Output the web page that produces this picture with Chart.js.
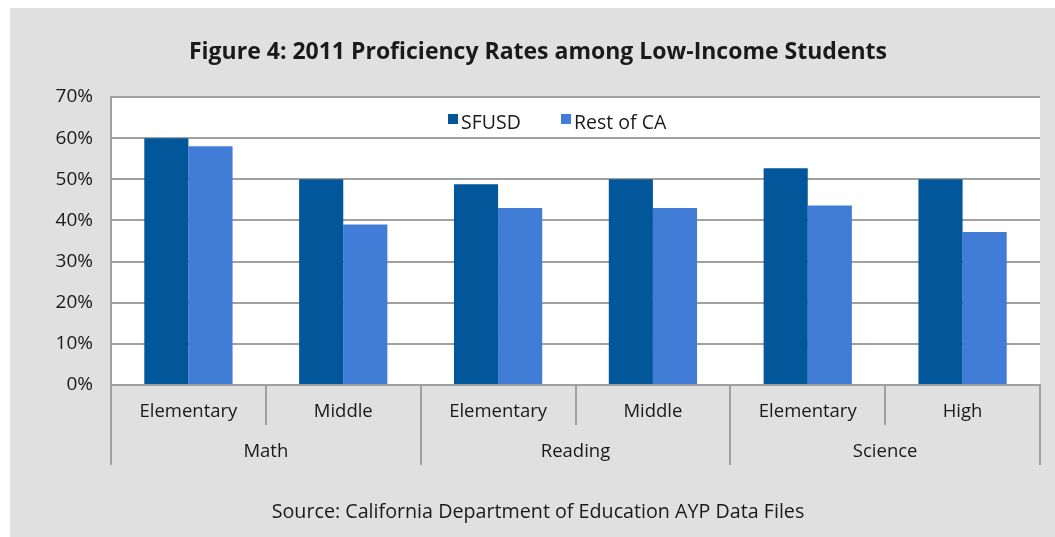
<!DOCTYPE html>
<html>
<head>
<meta charset="utf-8">
<script src="https://cdn.jsdelivr.net/npm/chart.js@4.4.1/dist/chart.umd.min.js"></script>
<style>
  html, body { margin: 0; padding: 0; background: #ffffff; }
  #wrap { position: absolute; left: 10px; top: 8px; width: 1045px; height: 529px; background: #e0e0e0; }
  canvas { display: block; }
</style>
</head>
<body>
<div id="wrap"><canvas id="c" width="1045" height="529"></canvas></div>
<script>
const categories = ['Elementary', 'Middle', 'Elementary', 'Middle', 'Elementary', 'High'];
const groups = ['Math', 'Reading', 'Science'];
const sfusd = [60, 50, 48.8, 50, 52.7, 50];
const restOfCA = [58, 39, 43, 43, 43.6, 37.2];
const yTicks = [0, 10, 20, 30, 40, 50, 60, 70];
const titleText = 'Figure 4: 2011 Proficiency Rates among Low-Income Students';
const sourceText = 'Source: California Department of Education AYP Data Files';

const FONT = "'Open Sans', 'DejaVu Sans', sans-serif";
const GRID = '#a0a0a0';
const TEXT = '#1a1a1a';

const plotBg = {
  id: 'plotBg',
  beforeDraw(chart) {
    const { ctx, chartArea: a } = chart;
    ctx.save();
    ctx.fillStyle = '#ffffff';
    ctx.fillRect(a.left, a.top, a.right - a.left, a.bottom - a.top);
    ctx.restore();
  }
};

// shift title/subtitle blocks so their centre matches the reference
const shiftText = {
  id: 'shiftText',
  afterLayout(chart) {
    chart.boxes.forEach(b => {
      if (b.options && (b.options.text === titleText || b.options.text === sourceText)) {
        b.left += 13; b.right += 13;
      }
    });
  }
};

const insideLegend = {
  id: 'insideLegend',
  afterDatasetsDraw(chart) {
    const { ctx, chartArea: a } = chart;
    ctx.save();
    ctx.font = '19.5px ' + FONT;
    ctx.textBaseline = 'middle';
    const box = 10, gap = 3;
    const offsets = [337, 450];
    const cy = a.top + 25;
    chart.data.datasets.forEach((d, i) => {
      const x = a.left + offsets[i];
      ctx.fillStyle = d.backgroundColor;
      ctx.fillRect(x, cy - 8, box, box);
      ctx.fillStyle = TEXT;
      ctx.fillText(d.label, x + box + gap, cy + 1);
    });
    ctx.restore();
  }
};

new Chart(document.getElementById('c'), {
  type: 'bar',
  data: {
    labels: categories,
    datasets: [
      { label: 'SFUSD', data: sfusd, backgroundColor: '#02579b', borderWidth: 0, xAxisID: 'x' },
      { label: 'Rest of CA', data: restOfCA, backgroundColor: '#417dd7', borderWidth: 0, xAxisID: 'x' }
    ]
  },
  options: {
    responsive: false,
    animation: false,
    devicePixelRatio: 1,
    layout: { padding: { left: 0, right: 15, top: 0, bottom: 0 } },
    datasets: { bar: { barPercentage: 1.0, categoryPercentage: 0.57 } },
    plugins: {
      legend: { display: false },
      tooltip: { enabled: false },
      title: {
        display: true,
        text: titleText,
        color: TEXT,
        font: { family: FONT, size: 23, weight: 'bold' },
        padding: { top: 30.5, bottom: 30.9 }
      },
      subtitle: {
        display: true,
        position: 'bottom',
        text: sourceText,
        color: TEXT,
        font: { family: FONT, size: 19.7 },
        padding: { top: 36, bottom: 12.4 }
      }
    },
    scales: {
      y: {
        min: 0,
        max: 70,
        afterBuildTicks(scale) { scale.ticks = yTicks.map(v => ({ value: v })); },
        afterFit(scale) { scale.width = 101; },
        ticks: {
          padding: 18,
          color: TEXT,
          font: { family: FONT, size: 19 },
          callback: v => v + '%'
        },
        grid: { color: GRID, lineWidth: 2, drawTicks: false },
        border: { display: true, color: GRID, width: 2 }
      },
      x: {
        position: 'bottom',
        offset: true,
        afterFit(scale) { scale.height = 40; },
        ticks: {
          padding: -24,
          color: TEXT,
          font: { family: FONT, size: 18.5 },
          maxRotation: 0,
          autoSkip: false
        },
        grid: { offset: true, drawOnChartArea: false, drawTicks: true, tickLength: 40, color: GRID, lineWidth: 2 },
        border: { display: true, color: GRID, width: 2 }
      },
      x2: {
        type: 'category',
        position: 'bottom',
        labels: groups,
        offset: true,
        afterFit(scale) { scale.height = 40; },
        ticks: {
          padding: -24,
          color: TEXT,
          font: { family: FONT, size: 18.5 },
          maxRotation: 0,
          autoSkip: false
        },
        grid: { offset: true, drawOnChartArea: false, drawTicks: true, tickLength: 40, color: GRID, lineWidth: 2 },
        border: { display: false }
      }
    }
  },
  plugins: [plotBg, shiftText, insideLegend]
});
</script>
</body>
</html>
